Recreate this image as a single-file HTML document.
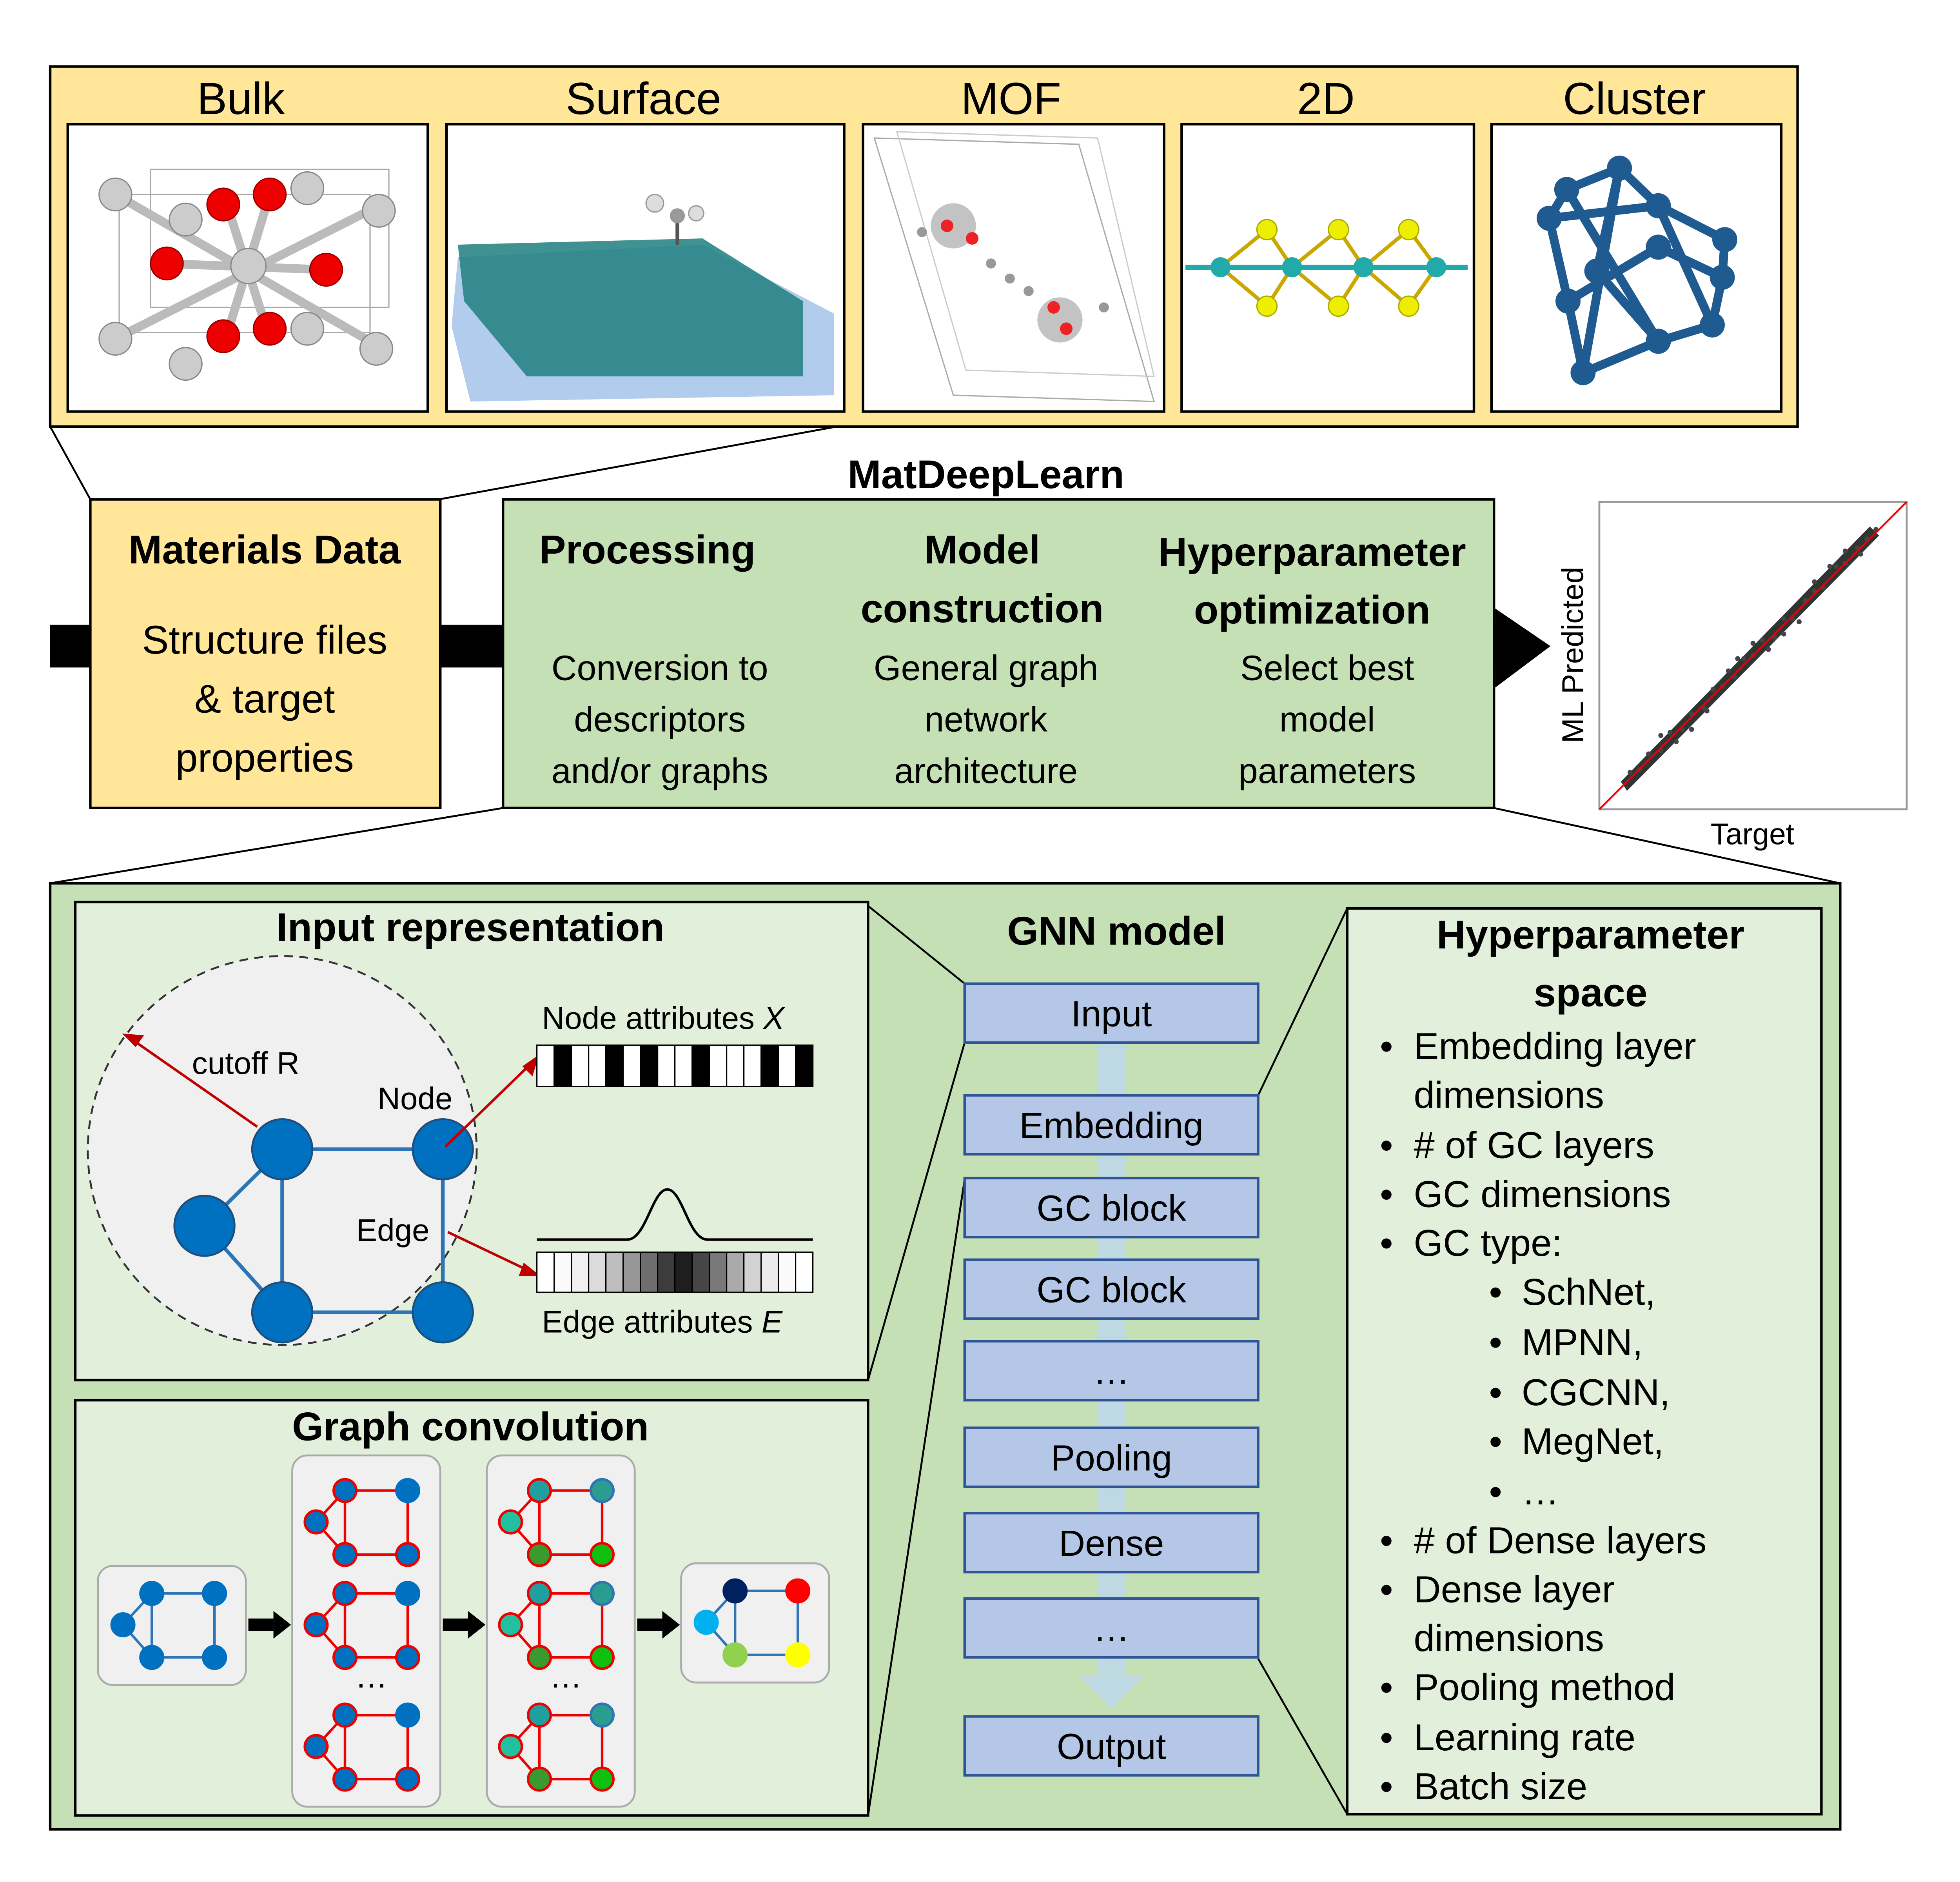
<!DOCTYPE html>
<html><head><meta charset="utf-8"><style>
html,body{margin:0;padding:0;background:#fff;}
svg{display:block;width:5008px;height:4800px;}
text{font-family:"Liberation Sans",sans-serif;fill:#000;}
.b{font-weight:bold;}
</style></head><body>
<svg id="root" viewBox="0 0 1565 1500" preserveAspectRatio="none" xmlns="http://www.w3.org/2000/svg">
<g>
<rect x="40" y="53" width="1393" height="287" fill="#ffe699" stroke="#000" stroke-width="2"/>
<g font-size="36" text-anchor="middle">
<text x="192" y="91">Bulk</text>
<text x="513" y="91">Surface</text>
<text x="806" y="91">MOF</text>
<text x="1057" y="91">2D</text>
<text x="1303" y="91">Cluster</text>
</g>
<g fill="#fff" stroke="#000" stroke-width="2">
<rect x="54" y="99" width="287" height="229"/>
<rect x="356" y="99" width="317" height="229"/>
<rect x="688" y="99" width="240" height="229"/>
<rect x="942" y="99" width="233" height="229"/>
<rect x="1189" y="99" width="231" height="229"/>
</g>
<g>
<g stroke="#aaa" stroke-width="1" fill="none"><rect x="95" y="155" width="200" height="110"/><rect x="120" y="135" width="190" height="110"/></g>
<g stroke="#bbb" stroke-width="7"><line x1="92" y1="155" x2="300" y2="275"/><line x1="300" y1="165" x2="92" y2="270"/><line x1="130" y1="210" x2="260" y2="215"/><line x1="180" y1="160" x2="215" y2="270"/><line x1="215" y1="155" x2="180" y2="270"/></g>
<g fill="#ccc" stroke="#888"><circle cx="92" cy="155" r="13"/><circle cx="148" cy="175" r="13"/><circle cx="245" cy="150" r="13"/><circle cx="302" cy="168" r="13"/><circle cx="198" cy="212" r="14"/><circle cx="92" cy="270" r="13"/><circle cx="148" cy="290" r="13"/><circle cx="245" cy="262" r="13"/><circle cx="300" cy="278" r="13"/></g>
<g fill="#e00" stroke="#900"><circle cx="178" cy="163" r="13"/><circle cx="215" cy="155" r="13"/><circle cx="133" cy="210" r="13"/><circle cx="260" cy="215" r="13"/><circle cx="178" cy="268" r="13"/><circle cx="215" cy="262" r="13"/></g>
</g>
<g>
<polygon points="365,205 560,195 665,250 665,315 375,320 360,260" fill="#9fbfe8" opacity="0.8"/>
<polygon points="365,195 560,190 640,240 640,300 420,300 370,240" fill="#1f7f7f" opacity="0.85"/>
<line x1="540" y1="195" x2="540" y2="170" stroke="#555" stroke-width="3"/>
<circle cx="522" cy="162" r="7" fill="#ddd" stroke="#999"/><circle cx="540" cy="172" r="6" fill="#999"/><circle cx="555" cy="170" r="6" fill="#ddd" stroke="#999"/>
</g>
<g>
<polygon points="697,110 860,115 920,320 760,315" fill="none" stroke="#aaa"/>
<polygon points="715,105 875,110 920,300 770,295" fill="none" stroke="#ccc"/>
<g fill="#888"><circle cx="760" cy="180" r="18" opacity="0.5"/><circle cx="845" cy="255" r="18" opacity="0.5"/></g>
<g fill="#e22"><circle cx="755" cy="180" r="5"/><circle cx="775" cy="190" r="5"/><circle cx="840" cy="245" r="5"/><circle cx="850" cy="262" r="5"/></g>
<g fill="#999"><circle cx="790" cy="210" r="4"/><circle cx="805" cy="222" r="4"/><circle cx="820" cy="232" r="4"/><circle cx="735" cy="185" r="4"/><circle cx="880" cy="245" r="4"/></g>
</g>
<g>
<g stroke="#2aa" stroke-width="4"><line x1="945" y1="213" x2="1170" y2="213"/></g>
<g stroke="#caa800" stroke-width="3" fill="none"><polyline points="973,213 1010,183 1030,213 1067,183 1087,213 1123,183 1145,213"/><polyline points="973,213 1010,244 1030,213 1067,244 1087,213 1123,244 1145,213"/></g>
<g fill="#2aa"><circle cx="973" cy="213" r="8"/><circle cx="1030" cy="213" r="8"/><circle cx="1087" cy="213" r="8"/><circle cx="1145" cy="213" r="8"/></g>
<g fill="#ee0" stroke="#aa0"><circle cx="1010" cy="183" r="8"/><circle cx="1067" cy="183" r="8"/><circle cx="1123" cy="183" r="8"/><circle cx="1010" cy="244" r="8"/><circle cx="1067" cy="244" r="8"/><circle cx="1123" cy="244" r="8"/></g>
</g>
<g>
<g stroke="#1f5a90" stroke-width="7" fill="none"><polyline points="1249,151 1291,134 1322,164 1375,191 1373,221 1365,259 1322,272 1262,297 1250,240 1235,174 1249,151"/><line x1="1249" y1="151" x2="1322" y2="272"/><line x1="1291" y1="134" x2="1273" y2="216"/><line x1="1235" y1="174" x2="1322" y2="164"/><line x1="1322" y1="164" x2="1365" y2="259"/><line x1="1273" y1="216" x2="1322" y2="272"/><line x1="1250" y1="240" x2="1322" y2="197"/><line x1="1322" y1="197" x2="1373" y2="221"/><line x1="1291" y1="134" x2="1262" y2="297"/></g>
<g fill="#1f5a90"><circle cx="1249" cy="151" r="10"/><circle cx="1291" cy="134" r="10"/><circle cx="1322" cy="164" r="10"/><circle cx="1375" cy="191" r="10"/><circle cx="1373" cy="221" r="10"/><circle cx="1365" cy="259" r="10"/><circle cx="1322" cy="272" r="10"/><circle cx="1262" cy="297" r="10"/><circle cx="1250" cy="240" r="10"/><circle cx="1235" cy="174" r="10"/><circle cx="1273" cy="216" r="10"/><circle cx="1322" cy="197" r="10"/></g>
</g>
</g>
<g stroke="#000" stroke-width="1.5"><line x1="40" y1="340" x2="72" y2="398"/><line x1="667" y1="340" x2="350" y2="398"/><line x1="401" y1="644" x2="40" y2="704"/><line x1="1191" y1="644" x2="1467" y2="704"/></g>
<text x="786" y="389" font-size="32" class="b" text-anchor="middle">MatDeepLearn</text>
<rect x="40" y="498" width="1152" height="34" fill="#000"/>
<polygon points="1192,485 1236,515 1192,548" fill="#000"/>
<g>
<rect x="72" y="398" width="279" height="246" fill="#ffe699" stroke="#000" stroke-width="2"/>
<text x="211" y="449" font-size="32" class="b" text-anchor="middle">Materials Data</text>
<g font-size="32" text-anchor="middle"><text x="211" y="521">Structure files</text><text x="211" y="568">&amp; target</text><text x="211" y="615">properties</text></g>
</g>
<g>
<rect x="401" y="398" width="790" height="246" fill="#c5e0b4" stroke="#000" stroke-width="2"/>
<g font-size="32" class="b" text-anchor="middle"><text x="516" y="449">Processing</text><text x="783" y="449">Model</text><text x="783" y="496">construction</text><text x="1046" y="451">Hyperparameter</text><text x="1046" y="497">optimization</text></g>
<g font-size="28" text-anchor="middle"><text x="526" y="542">Conversion to</text><text x="526" y="583">descriptors</text><text x="526" y="624">and/or graphs</text><text x="786" y="542">General graph</text><text x="786" y="583">network</text><text x="786" y="624">architecture</text><text x="1058" y="542">Select best</text><text x="1058" y="583">model</text><text x="1058" y="624">parameters</text></g>
</g>
<g id="scatter">
<rect x="1275" y="400" width="245" height="245" fill="#fff" stroke="#999" stroke-width="1.5"/>
<text transform="translate(1262,522) rotate(-90)" font-size="24" text-anchor="middle">ML Predicted</text>
<text x="1397" y="673" font-size="24" text-anchor="middle">Target</text>
</g>
<rect x="40" y="704" width="1427" height="754" fill="#c5e0b4" stroke="#000" stroke-width="2"/>
<g stroke="#000" stroke-width="1.5"><line x1="692" y1="722" x2="769" y2="784"/><line x1="692" y1="1100" x2="769" y2="831"/><line x1="692" y1="1447" x2="769" y2="940"/><line x1="1003" y1="873" x2="1074" y2="724"/><line x1="1003" y1="1322" x2="1074" y2="1446"/></g>
<g>
<rect x="60" y="719" width="632" height="381" fill="#e2efda" stroke="#000" stroke-width="2"/>
<text x="375" y="750" font-size="32" class="b" text-anchor="middle">Input representation</text>
<circle cx="225" cy="917" r="155" fill="#f0f0f0" stroke="#333" stroke-width="1.5" stroke-dasharray="7,5"/>
<g stroke="#2e75b6" stroke-width="3"><line x1="225" y1="916" x2="353" y2="916"/><line x1="225" y1="916" x2="163" y2="977"/><line x1="163" y1="977" x2="225" y2="1046"/><line x1="225" y1="916" x2="225" y2="1046"/><line x1="225" y1="1046" x2="353" y2="1046"/><line x1="353" y1="916" x2="353" y2="1046"/></g>
<g fill="#0070c0" stroke="#1f4e79" stroke-width="1.5"><circle cx="225" cy="916" r="24"/><circle cx="353" cy="916" r="24"/><circle cx="163" cy="977" r="24"/><circle cx="225" cy="1046" r="24"/><circle cx="353" cy="1046" r="24"/></g>
<g stroke="#c00000" stroke-width="2" fill="#c00000"><line x1="205" y1="898" x2="106" y2="829"/><polygon points="100,825 113,826 108,833"/><line x1="355" y1="914" x2="422" y2="849"/><polygon points="428,843 424,856 418,850"/><line x1="357" y1="982" x2="420" y2="1012"/><polygon points="428,1016 415,1016 418,1008"/></g>
<g font-size="25"><text x="153" y="856">cutoff R</text><text x="301" y="884">Node</text><text x="284" y="989">Edge</text><text x="432" y="820">Node attributes <tspan font-style="italic">X</tspan></text><text x="432" y="1062">Edge attributes <tspan font-style="italic">E</tspan></text></g>
<g id="nodebar"></g>
<path d="M428,988 L500,988 C515,988 520,948 532,948 C544,948 549,988 564,988 L648,988" fill="none" stroke="#000" stroke-width="2"/>
<g id="edgebar"></g>
</g>
<g>
<rect x="60" y="1116" width="632" height="331" fill="#e2efda" stroke="#000" stroke-width="2"/>
<text x="375" y="1148" font-size="32" class="b" text-anchor="middle">Graph convolution</text>
<g fill="#f0f0f0" stroke="#aaa" stroke-width="1.5"><rect x="78" y="1248" width="118" height="95" rx="12"/><rect x="233" y="1160" width="118" height="280" rx="12"/><rect x="388" y="1160" width="118" height="280" rx="12"/><rect x="543" y="1246" width="118" height="95" rx="12"/></g>
<g fill="#000"><rect x="198" y="1290" width="20" height="10"/><polygon points="218,1284 232,1295 218,1306"/><rect x="353" y="1290" width="20" height="10"/><polygon points="373,1284 387,1295 373,1306"/><rect x="508" y="1290" width="20" height="10"/><polygon points="528,1284 542,1295 528,1306"/></g>
<g font-size="26" text-anchor="middle"><text x="296" y="1345">…</text><text x="451" y="1345">…</text></g>
<g id="graphs"></g>
</g>
<g>
<text x="890" y="753" font-size="32" class="b" text-anchor="middle">GNN model</text>
<rect x="875" y="831" width="22" height="505" fill="#bdd7ee" opacity="0.8"/>
<polygon points="860,1336 912,1336 886,1362" fill="#bdd7ee" opacity="0.8"/>
<g id="blocks"></g>
</g>
<g>
<rect x="1074" y="724" width="378" height="722" fill="#e2efda" stroke="#000" stroke-width="2"/>
<g font-size="32" class="b" text-anchor="middle"><text x="1268" y="756">Hyperparameter</text><text x="1268" y="802">space</text></g>
<g id="hp" font-size="30"></g>
</g>
</svg>
<script>
const NS='http://www.w3.org/2000/svg';
function mk(tag,attrs,parent){const e=document.createElementNS(NS,tag);for(const k in attrs)e.setAttribute(k,attrs[k]);parent.appendChild(e);return e;}
const scatterTarget=[0.1,0.13,0.16,0.2,0.23,0.27,0.3,0.34,0.37,0.4,0.44,0.47,0.5,0.53,0.57,0.6,0.63,0.67,0.7,0.73,0.77,0.8,0.84,0.87,0.9,0.2,0.35,0.5,0.65,0.8,0.3,0.45,0.6,0.75,0.25,0.42,0.55,0.7,0.85];
const scatterPred=[0.12,0.13,0.18,0.19,0.25,0.26,0.31,0.33,0.39,0.4,0.43,0.49,0.5,0.55,0.56,0.62,0.62,0.68,0.71,0.72,0.79,0.8,0.85,0.88,0.91,0.24,0.32,0.54,0.61,0.84,0.26,0.49,0.57,0.79,0.22,0.45,0.52,0.74,0.83];
const sx=v=>1275+v*245, sy=v=>645-v*245;
const sc=document.getElementById('scatter');
const band=mk('polygon',{points:`${sx(0.09)},${sy(0.06)} ${sx(0.07)},${sy(0.09)} ${sx(0.88)},${sy(0.92)} ${sx(0.91)},${sy(0.89)}`,fill:'#333'},sc);


scatterTarget.forEach((t,i)=>{const c=mk('circle',{cx:sx(t),cy:sy(scatterPred[i]),r:2,fill:'#444'},sc);

});
const diag=mk('line',{x1:1275,y1:645,x2:1520,y2:400,stroke:'#e00',"stroke-width":1.5},sc);


const nodeCells=[0,1,0,0,1,0,1,0,0,1,0,0,0,1,0,1];
const nb=document.getElementById('nodebar');
nodeCells.forEach((v,i)=>{const w=220/16;const r=mk('rect',{x:428+i*w,y:833,width:w,height:33,fill:v?'#000':'#fff',stroke:'#000',"stroke-width":1},nb);

});
const edgeCells=[255,250,240,220,190,150,110,60,30,70,120,170,210,235,250,255];
const eb=document.getElementById('edgebar');
edgeCells.forEach((v,i)=>{const w=220/16;const r=mk('rect',{x:428+i*w,y:998,width:w,height:32,fill:`rgb(${v},${v},${v})`,stroke:'#000',"stroke-width":1},eb);

});
const g=document.getElementById('graphs');
function graph(cx,cy,edgeCol,cols,strokes){
 const pts=[[cx-15,cy-25],[cx+35,cy-25],[cx-38,cy],[cx-15,cy+26],[cx+35,cy+26]];
 const es=[[0,1],[0,2],[2,3],[0,3],[3,4],[1,4]];
 es.forEach(e=>mk('line',{x1:pts[e[0]][0],y1:pts[e[0]][1],x2:pts[e[1]][0],y2:pts[e[1]][1],stroke:edgeCol,"stroke-width":2},g));
 pts.forEach((p,i)=>mk('circle',{cx:p[0],cy:p[1],r:9,fill:cols[i],stroke:strokes?strokes[i]:cols[i],"stroke-width":2},g));
}
const B='#0070c0';
graph(136,1295,'#2e75b6',[B,B,B,B,B]);
[1213,1295,1392].forEach(y=>graph(290,y,'#e00',[B,B,B,B,B],['#e00',B,'#e00','#e00','#e00']));
[1213,1295,1392].forEach(y=>graph(445,y,'#e00',['#1f9fa0','#2a9d8f','#20c0a0','#3a9a30','#10c010'],['#e00','#2e75b6','#e00','#e00','#e00']));
graph(601,1293,'#2e75b6',['#002060','#ff0000','#00b0f0','#92d050','#ffff00']);
const blockLabels=['Input','Embedding','GC block','GC block','…','Pooling','Dense','…','Output'];
const blockTops=[784,873,939,1004,1069,1138,1206,1274,1368];
const bl=document.getElementById('blocks');
blockLabels.forEach((l,i)=>{const r=mk('rect',{x:769,y:blockTops[i],width:234,height:47,fill:'#b4c7e7',stroke:'#2f5597',"stroke-width":2},bl);


const t=mk('text',{x:886,y:blockTops[i]+34,"font-size":29,"text-anchor":"middle"},bl);t.textContent=l;});
const hpItems=[['•','Embedding layer',0],['','dimensions',0],['•','# of GC layers',0],['•','GC dimensions',0],['•','GC type:',0],['•','SchNet,',1],['•','MPNN,',1],['•','CGCNN,',1],['•','MegNet,',1],['•','…',1],['•','# of Dense layers',0],['•','Dense layer',0],['','dimensions',0],['•','Pooling method',0],['•','Learning rate',0],['•','Batch size',0]];
const hpY=[844,883,923,962,1001,1040,1080,1120,1159,1199,1238,1277,1316,1355,1395,1434];
const hp=document.getElementById('hp');
hpItems.forEach((it,i)=>{const bx=it[2]?1187:1100;const tx=it[2]?1213:1127;
 if(it[0]){const b=mk('text',{x:bx,y:hpY[i]},hp);b.textContent='•';}
 const t=mk('text',{x:tx,y:hpY[i]},hp);t.textContent=it[1];
 
 });
</script>
</body></html>
